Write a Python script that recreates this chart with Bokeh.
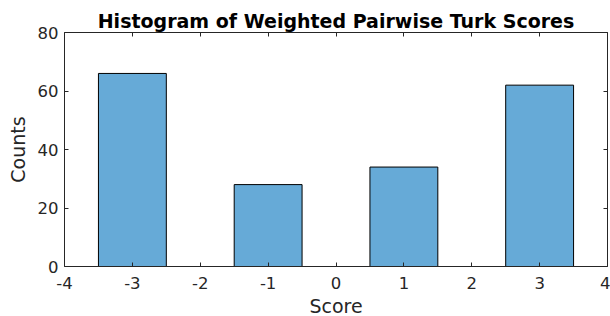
from bokeh.plotting import figure
from bokeh.models import LinearAxis, FixedTicker, Range1d
from bokeh.embed import file_html
from bokeh.resources import INLINE

scores = [-3, -1, 1, 3]
counts = [66, 28, 34, 62]
x_ticks = [-4, -3, -2, -1, 0, 1, 2, 3, 4]
y_ticks = [0, 20, 40, 60, 80]

FONT = "DejaVu Sans"
AX = "#262626"

p = figure(frame_width=543, frame_height=234, output_backend="svg", toolbar_location=None,
           x_range=Range1d(-4, 4), y_range=Range1d(0, 80),
           title="Histogram of Weighted Pairwise Turk Scores",
           min_border_left=64, min_border_right=3, min_border_top=32, min_border_bottom=45)
p.title.align = "center"
p.title.text_font = FONT
p.title.text_font_size = "19px"
p.title.text_font_style = "bold"
p.title.text_color = "black"
p.title.offset = 0
p.title.standoff = 1

p.grid.visible = False
p.outline_line_color = None
p.background_fill_color = "white"

p.quad(left=[s - 0.5 for s in scores], right=[s + 0.5 for s in scores],
       bottom=0, top=counts, fill_color="#66aad7", line_color="black", line_width=1)

for ax in (p.xaxis[0], p.yaxis[0]):
    ax.major_label_text_font = FONT
    ax.major_label_text_font_size = "16.5px"
    ax.major_label_text_color = AX
    ax.axis_label_text_font = FONT
    ax.axis_label_text_font_size = "19px"
    ax.axis_label_text_font_style = "normal"
    ax.axis_label_text_color = AX
    ax.axis_line_color = AX
    ax.major_tick_line_color = AX
    ax.major_tick_in = 4
    ax.major_tick_out = 0
    ax.minor_tick_line_color = None

p.xaxis[0].ticker = FixedTicker(ticks=x_ticks)
p.yaxis[0].ticker = FixedTicker(ticks=y_ticks)
p.xaxis[0].major_label_overrides = {t: str(t) for t in x_ticks}
p.yaxis[0].major_label_overrides = {t: str(t) for t in y_ticks}
p.xaxis[0].axis_label = "Score"
p.yaxis[0].axis_label = "Counts"
p.xaxis[0].major_label_standoff = 10
p.yaxis[0].major_label_standoff = 6
p.xaxis[0].axis_label_standoff = 3
p.yaxis[0].axis_label_standoff = 6

for loc, ticks in (("above", x_ticks), ("right", y_ticks)):
    a = LinearAxis(ticker=FixedTicker(ticks=ticks))
    a.major_label_overrides = {t: "" for t in ticks}
    a.major_label_text_font_size = "1px"
    a.major_label_standoff = 0
    a.axis_line_color = AX
    a.major_tick_line_color = AX
    a.major_tick_in = 4
    a.major_tick_out = 0
    a.minor_tick_line_color = None
    p.add_layout(a, loc)

open("out.html", "w").write(file_html(p, INLINE))
